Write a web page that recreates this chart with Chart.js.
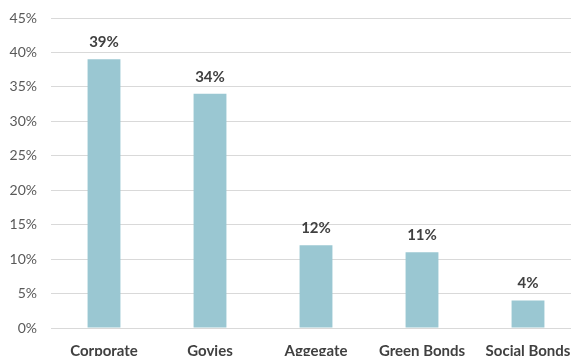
<!DOCTYPE html>
<html>
<head>
<meta charset="utf-8">
<script src="https://cdn.jsdelivr.net/npm/chart.js@4.4.0/dist/chart.umd.min.js"></script>
<style>
    body { margin: 0; background: #fff; overflow: hidden; }
    #wrap { position: absolute; left: 0; top: 0; width: 585px; height: 368px; }
</style>
</head>
<body>
<div id="wrap"><canvas id="barChart"></canvas></div>
<script>
// Allocation by segment
const categories = ['Corporate', 'Govies', 'Aggegate', 'Green Bonds', 'Social Bonds'];
const shares = [39, 34, 12, 11, 4];
const yTicks = [0, 5, 10, 15, 20, 25, 30, 35, 40, 45];

const FONT = 'Lato, "Open Sans", sans-serif';

// draw the value labels above each bar
const valueLabels = {
    id: 'valueLabels',
    afterDatasetsDraw(chart) {
        const ctx = chart.ctx;
        const meta = chart.getDatasetMeta(0);
        ctx.save();
        ctx.font = 'bold 15px ' + FONT;
        ctx.fillStyle = '#404040';
        ctx.textAlign = 'center';
        ctx.textBaseline = 'middle';
        meta.data.forEach((bar, i) => {
            ctx.fillText(shares[i] + '%', bar.x, bar.y - 17);
        });
        ctx.restore();
    }
};

new Chart(document.getElementById('barChart'), {
    type: 'bar',
    data: {
        labels: categories,
        datasets: [{
            data: shares,
            backgroundColor: '#9AC7D2',
            borderWidth: 0,
            categoryPercentage: 1,
            barPercentage: 0.31
        }]
    },
    options: {
        responsive: true,
        maintainAspectRatio: false,
        animation: false,
        layout: { padding: { top: 18, right: 4, left: 0, bottom: 0 } },
        plugins: {
            legend: { display: false },
            tooltip: { enabled: false }
        },
        scales: {
            x: {
                grid: { display: false, drawTicks: false },
                border: { display: false },
                ticks: {
                    color: '#404040',
                    font: { family: FONT, size: 15, weight: 'bold' },
                    padding: 14,
                    maxRotation: 0,
                    autoSkip: false
                },
                afterFit: (scale) => { scale.height = 40; }
            },
            y: {
                min: 0,
                max: 45,
                afterBuildTicks: (scale) => { scale.ticks = yTicks.map(v => ({ value: v })); },
                grid: { color: '#D9D9D9', lineWidth: 1, drawTicks: false },
                border: { display: false },
                ticks: {
                    color: '#595959',
                    font: { family: FONT, size: 14 },
                    padding: 14,
                    callback: (v) => v + '%'
                },
                afterFit: (scale) => {
                    scale.width = 51;
                    scale.paddingTop = 0; // top gridline sits at the padding edge
                }
            }
        }
    },
    plugins: [valueLabels]
});
</script>
</body>
</html>
